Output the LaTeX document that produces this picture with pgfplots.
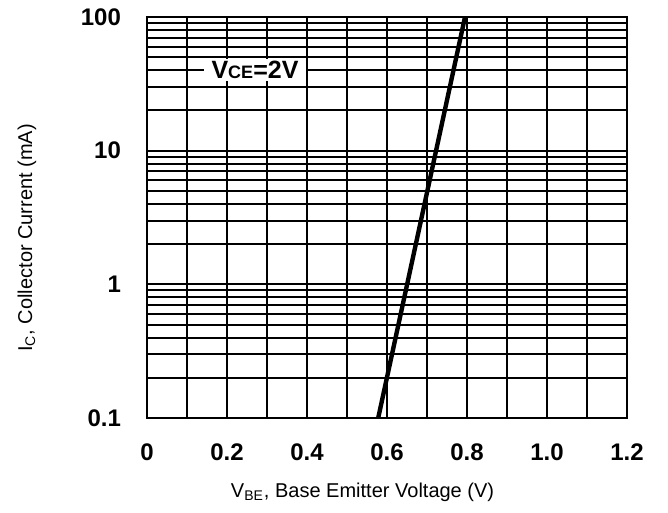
\documentclass[border=0pt]{standalone}
\usepackage{fontspec}
\setmainfont{Liberation Sans}
\usepackage{pgfplots}
\pgfplotsset{compat=1.18}

\begin{document}
\begin{tikzpicture}
\begin{axis}[
    scale only axis,
    width=240pt, height=200.5pt,
    xmin=0, xmax=1.2,
    ymode=log, ymin=0.1, ymax=100,
    xtick={0,0.2,0.4,0.6,0.8,1.0,1.2},
    xticklabels={0,0.2,0.4,0.6,0.8,1.0,1.2},
    minor xtick={0.1,0.3,0.5,0.7,0.9,1.1},
    ytick={0.1,1,10,100},
    yticklabels={0.1,1,10,100},
    minor ytick={0.2,0.3,0.4,0.5,0.6,0.7,0.8,0.9,2,3,4,5,6,7,8,9,20,30,40,50,60,70,80,90},
    grid=both,
    major grid style={black, line width=1pt},
    minor grid style={black, line width=1pt},
    axis line style={black, line width=1.1pt},
    major tick length=0pt, minor tick length=0pt,
    tick label style={font=\fontsize{12}{14}\selectfont\bfseries},
    xticklabel style={yshift=-9.2pt},
    yticklabel style={xshift=-9.5pt},
    label style={font=\fontsize{11}{13}\selectfont},
    every axis x label/.style={at={(axis description cs:0.449,-0.1845)}, anchor=center},
    every axis y label/.style={at={(axis description cs:-0.25,0.449)}, rotate=90, anchor=center},
    xlabel={V\textsubscript{BE}, Base Emitter Voltage (V)},
    ylabel={I\textsubscript{C}, Collector Current (mA)},
]

% V_CE = 2V
\addplot[black, line width=2.2pt] coordinates {
    (0.578,0.1) (0.795,100)
};

\node[fill=white, inner xsep=4pt, inner ysep=1pt, font=\fontsize{12.5}{14}\selectfont\bfseries]
    at (axis cs:0.27,40) {V{\fontsize{9}{10}\selectfont CE}=2V};

\end{axis}
\pgfresetboundingbox
\path (-73.5pt,-47.5pt) rectangle (260.5pt,209pt);
\end{tikzpicture}
\end{document}
